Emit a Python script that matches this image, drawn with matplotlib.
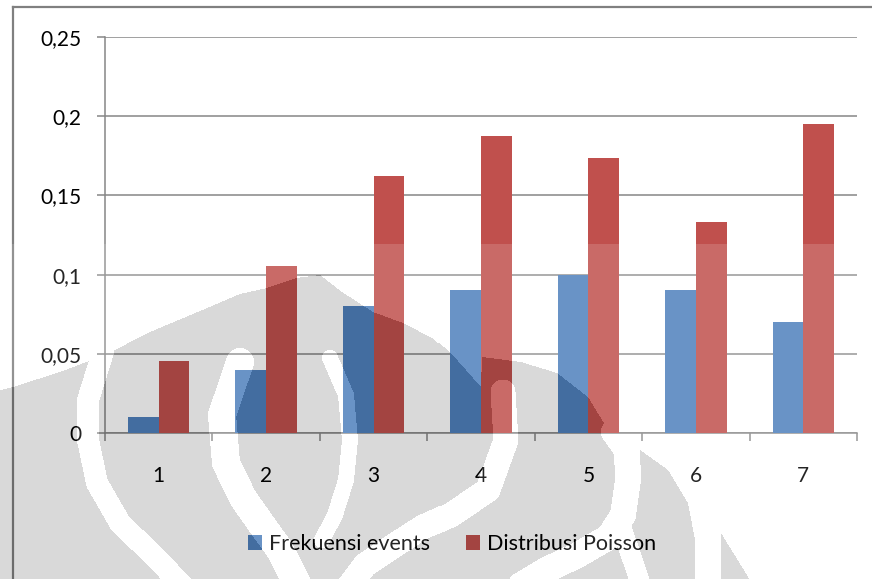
import numpy as np
import matplotlib
matplotlib.use("Agg")
import matplotlib.pyplot as plt
from matplotlib.path import Path
from matplotlib.lines import Line2D

# data
categories = ["1", "2", "3", "4", "5", "6", "7"]
frekuensi = [0.01, 0.04, 0.08, 0.09, 0.10, 0.09, 0.07]
poisson = [0.0455, 0.1054, 0.162, 0.1875, 0.1734, 0.1334, 0.195]
ytick_vals = [0, 0.05, 0.1, 0.15, 0.2, 0.25]
ytick_labels = ["0", "0,05", "0,1", "0,15", "0,2", "0,25"]

W_PX, H_PX = 872, 579
GRID = "#868686"

plt.rcParams["font.family"] = ["Lato", "DejaVu Sans"]

fig = plt.figure(figsize=(W_PX / 100, H_PX / 100), dpi=100)
ax = fig.add_axes([105 / W_PX, 1 - 433 / H_PX, (857 - 105) / W_PX, (433 - 37) / H_PX])

x = np.arange(len(categories))
w = 0.2857
ax.bar(x - w / 2, frekuensi, w, color="#4F81BD", label="Frekuensi events", zorder=3)
ax.bar(x + w / 2, poisson, w, color="#C0504D", label="Distribusi Poisson", zorder=3)

ax.set_xlim(-0.5, len(categories) - 0.5)
ax.set_ylim(0, 0.25)
ax.set_yticks(ytick_vals, ytick_labels)
ax.yaxis.grid(True, color=GRID, lw=1.1)
ax.set_axisbelow(True)
for s in ("top", "right"):
    ax.spines[s].set_visible(False)
for s in ("left", "bottom"):
    ax.spines[s].set_color(GRID)
    ax.spines[s].set_linewidth(1.1)

ax.tick_params(axis="y", length=6, width=1.1, color=GRID, pad=11, labelsize=15)
ax.set_xticks(x, categories)
ax.tick_params(axis="x", which="major", length=0, pad=24, labelsize=15)
ax.set_xticks(np.arange(-0.5, len(categories), 1), minor=True)
ax.tick_params(axis="x", which="minor", length=6, width=1.1, color=GRID)

fig.legend(loc="center", bbox_to_anchor=(452 / W_PX, 1 - 544 / H_PX), ncol=2,
           frameon=False, fontsize=15.5, handlelength=0.65, handleheight=0.65,
           handletextpad=0.3, columnspacing=1.7)

# chart frame (left and top edges)
fig.add_artist(Line2D([13 / W_PX, 13 / W_PX], [0, 1 - 7 / H_PX], color="#808080",
                      lw=1.6, transform=fig.transFigure))
fig.add_artist(Line2D([13 / W_PX, 1], [1 - 7 / H_PX, 1 - 7 / H_PX], color="#808080",
                      lw=1.6, transform=fig.transFigure))

# faint logo watermark over the lower part of the page (pixel coords, y down)
logo_body = [(-10, 600), (-10, 393), (13, 387), (60, 372), (105, 355), (150, 332),
             (200, 311), (240, 294), (267, 288), (296, 278), (320, 275), (342, 292),
             (373, 312), (403, 323), (432, 338), (449, 352), (480, 387), (481, 357),
             (520, 362), (556, 373), (587, 397), (609, 433), (635, 447), (667, 470),
             (687, 503), (694, 540), (694, 600)]
logo_tip = [(720, 533), (749, 580), (720, 580)]
logo_gaps = [
    ([(103, 352), (88, 400), (88, 440), (97, 483), (120, 523), (155, 557), (182, 585)], 22),
    ([(240, 362), (222, 415), (226, 463), (243, 498), (262, 525), (280, 550), (298, 585)], 28),
    ([(330, 358), (346, 395), (350, 440), (346, 480), (335, 515), (322, 540)], 16),
    ([(502, 392), (505, 440), (487, 490), (450, 515), (423, 527), (395, 545),
      (365, 565), (350, 585)], 25),
    ([(613, 432), (626, 450), (627, 480), (622, 515), (608, 537), (575, 556),
      (545, 570), (520, 585)], 26),
    ([(618, 520), (640, 585)], 20),
]


def dist_to_polyline(px, py, line):
    d = np.full(px.shape, np.inf)
    for (x0, y0), (x1, y1) in zip(line[:-1], line[1:]):
        dx, dy = x1 - x0, y1 - y0
        t = np.clip(((px - x0) * dx + (py - y0) * dy) / (dx * dx + dy * dy), 0, 1)
        d = np.minimum(d, np.hypot(px - x0 - t * dx, py - y0 - t * dy))
    return d


yy, xx = np.mgrid[0:H_PX, 0:W_PX] + 0.5
pts = np.column_stack([xx.ravel(), yy.ravel()])
gray = Path(logo_body).contains_points(pts) | Path(logo_tip).contains_points(pts)
for line, width in logo_gaps:
    gray &= dist_to_polyline(pts[:, 0], pts[:, 1], line) >= width / 2
gray = gray.reshape(H_PX, W_PX)

rgba = np.zeros((H_PX, W_PX, 4))
rgba[(yy >= 244) & ~gray] = [1, 1, 1, 0.15]
rgba[gray] = [0, 0, 0, 0.15]

ov = fig.add_axes([0, 0, 1, 1], zorder=10)
ov.imshow(rgba, extent=(0, W_PX, H_PX, 0), interpolation="nearest", aspect="auto")
ov.set_xlim(0, W_PX)
ov.set_ylim(H_PX, 0)
ov.axis("off")

fig.savefig("out.png", dpi=100)
